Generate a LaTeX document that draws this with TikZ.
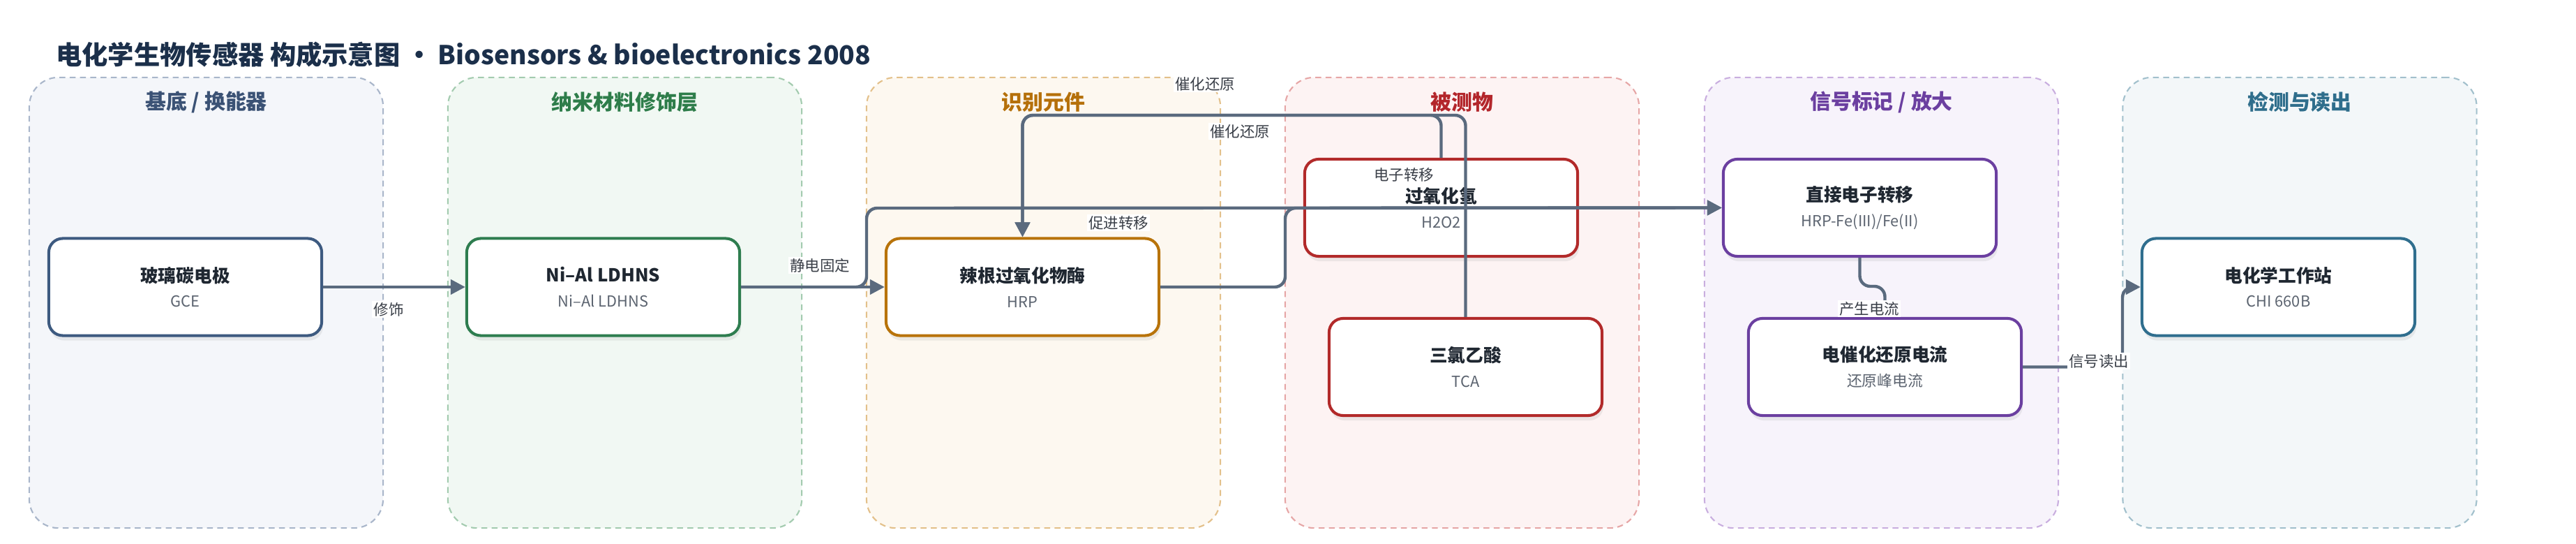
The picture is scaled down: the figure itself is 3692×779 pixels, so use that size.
\documentclass[tikz,border=0pt]{standalone}
\usepackage{fontspec}
\setmainfont{Noto Sans CJK SC}
\usetikzlibrary{arrows.meta,shadows}
\definecolor{titlec}{HTML}{1B2F4A}
\definecolor{edgec}{HTML}{5A6A7E}
\definecolor{labc}{HTML}{3A3F48}
\definecolor{ntc}{HTML}{1F2731}
\definecolor{nsc}{HTML}{5C6470}
\definecolor{laA}{HTML}{3B5275}\definecolor{lfA}{HTML}{F4F6FA}\definecolor{ldA}{HTML}{A9B6CA}\definecolor{nbA}{HTML}{3D5A80}
\definecolor{laB}{HTML}{2E7D4A}\definecolor{lfB}{HTML}{F1F8F3}\definecolor{ldB}{HTML}{A3CBAF}\definecolor{nbB}{HTML}{2E7D4F}
\definecolor{laC}{HTML}{B5700A}\definecolor{lfC}{HTML}{FDF8F0}\definecolor{ldC}{HTML}{E3C08A}\definecolor{nbC}{HTML}{B8730A}
\definecolor{laD}{HTML}{B3262B}\definecolor{lfD}{HTML}{FDF3F3}\definecolor{ldD}{HTML}{E6A6A6}\definecolor{nbD}{HTML}{B22A2A}
\definecolor{laE}{HTML}{6B3FA0}\definecolor{lfE}{HTML}{F7F3FB}\definecolor{ldE}{HTML}{C9AEDF}\definecolor{nbE}{HTML}{6B3FA0}
\definecolor{laF}{HTML}{2F6E8C}\definecolor{lfF}{HTML}{F3F7F9}\definecolor{ldF}{HTML}{A2C0CC}\definecolor{nbF}{HTML}{2F6E8E}
\newcommand{\nt}[1]{{\fontsize{7.3}{9}\selectfont\bfseries #1}}
\newcommand{\ns}[1]{{\fontsize{6.2}{8}\selectfont\color{nsc}#1}}
\tikzset{
  lane/.style={draw, line width=0.6pt, dash pattern=on 2.4pt off 1.8pt, rounded corners=0.42cm,
    minimum width=5.07cm, minimum height=6.45cm, inner sep=0pt},
  lanetitle/.style={font=\fontsize{8.5}{10}\selectfont\bfseries, anchor=center},
  box/.style={draw, line width=1.15pt, rounded corners=0.2cm, fill=white, text=ntc,
    minimum width=3.91cm, minimum height=1.39cm, align=center, inner sep=0pt,
    drop shadow={opacity=0.13, shadow xshift=0.02cm, shadow yshift=-0.07cm}},
  conn/.style={draw=edgec, line width=1.25pt, rounded corners=0.15cm,
    -{Triangle[length=6pt,width=6pt]}},
  lbl/.style={fill=white, inner sep=0.6pt, text=labc, font=\fontsize{6.1}{7}\selectfont},
}
\begin{document}
\begin{tikzpicture}[x=0.01cm,y=-0.01cm]
\useasboundingbox (0,0) rectangle (3692,779);
\node[anchor=west, text=titlec, font=\fontsize{10.6}{12}\selectfont\bfseries] (title) at (68,78)
  {电化学生物传感器 构成示意图 • Biosensors \& bioelectronics 2008};
% lanes
\node[lane, draw=ldA, fill=lfA] (L1) at (295.5,433.5) {};
\node[lane, draw=ldB, fill=lfB] (L2) at (895.5,433.5) {};
\node[lane, draw=ldC, fill=lfC] (L3) at (1495.5,433.5) {};
\node[lane, draw=ldD, fill=lfD] (L4) at (2095.5,433.5) {};
\node[lane, draw=ldE, fill=lfE] (L5) at (2696.5,433.5) {};
\node[lane, draw=ldF, fill=lfF] (L6) at (3296,433.5) {};
\node[lanetitle, text=laA] (T1) at (295.5,146) {基底 / 换能器};
\node[lanetitle, text=laB] (T2) at (895.5,146) {纳米材料修饰层};
\node[lanetitle, text=laC] (T3) at (1495.5,146) {识别元件};
\node[lanetitle, text=laD] (T4) at (2095.5,146) {被测物};
\node[lanetitle, text=laE] (T5) at (2696.5,146) {信号标记 / 放大};
\node[lanetitle, text=laF] (T6) at (3296,146) {检测与读出};
% nodes
\node[box, draw=nbA] (gce) at (265.5,411) {\nt{玻璃碳电极}\\[-1.8pt]\ns{GCE}};
\node[box, draw=nbB] (ni) at (864.5,411) {\nt{Ni–Al LDHNS}\\[-1.8pt]\ns{Ni–Al LDHNS}};
\node[box, draw=nbC] (hrp) at (1465.5,411) {\nt{辣根过氧化物酶}\\[-1.8pt]\ns{HRP}};
\node[box, draw=nbD] (h2o2) at (2065.5,297.5) {\nt{过氧化氢}\\[-1.8pt]\ns{H2O2}};
\node[box, draw=nbD] (tca) at (2100.5,525.5) {\nt{三氯乙酸}\\[-1.8pt]\ns{TCA}};
\node[box, draw=nbE] (det) at (2665.5,297.5) {\nt{直接电子转移}\\[-1.8pt]\ns{HRP-Fe(III)/Fe(II)}};
\node[box, draw=nbE] (cur) at (2701.5,525.5) {\nt{电催化还原电流}\\[-1.8pt]\ns{还原峰电流}};
\node[box, draw=nbF] (sta) at (3265.5,411) {\nt{电化学工作站}\\[-1.8pt]\ns{CHI 660B}};
% routing points
\coordinate (topy) at (0,165);
\coordinate (midy) at (0,298);
\coordinate (xa) at (1242,0);
\coordinate (xb) at (1842,0);
\coordinate (jy) at (0,410);
\coordinate (xr) at (3042,0);
% connectors
\draw[conn] (gce.east) -- (ni.west);
\draw[conn] (ni.east) -- (hrp.west);
\draw[conn] (ni.east) -- (xa |- ni.east) -- (xa |- midy) -- (det.west);
\draw[conn] (hrp.east) -- (xb |- hrp.east) -- (xb |- midy) -- (det.west);
\draw[conn] (h2o2.north) -- (h2o2.north |- topy) -- (hrp.north |- topy) -- (hrp.north);
\draw[conn] (tca.north) -- (tca.north |- topy) -- (hrp.north |- topy) -- (hrp.north);
\draw[conn] (det.south) -- (det.south |- jy) -- (cur.north |- jy) -- (cur.north);
\draw[conn] (cur.east) -- (xr |- cur.east) -- (xr |- sta.west) -- (sta.west);
% labels
\node[lbl] (l1) at (557,443) {修饰};
\node[lbl] (l2) at (1175,380) {静电固定};
\node[lbl] (l3) at (1603,319) {促进转移};
\node[lbl] (l4) at (2012,250) {电子转移};
\node[lbl] (l5) at (1727,120) {催化还原};
\node[lbl] (l6) at (1777,188) {催化还原};
\node[lbl] (l7) at (2679,442) {产生电流};
\node[lbl] (l8) at (3008,517) {信号读出};
\end{tikzpicture}
\end{document}
